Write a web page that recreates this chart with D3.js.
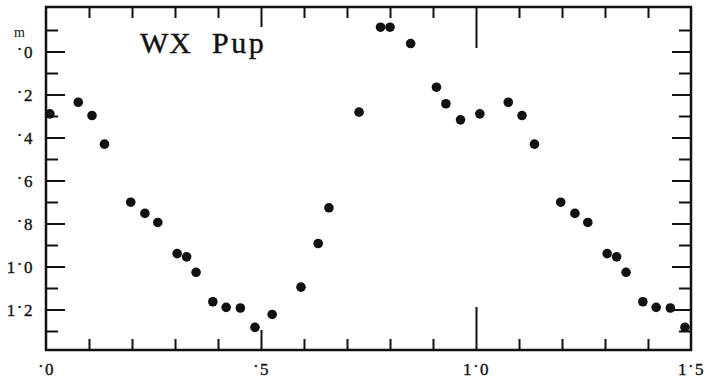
<!DOCTYPE html>
<html>
<head>
<meta charset="utf-8">
<script src="https://cdn.jsdelivr.net/npm/d3@7/dist/d3.min.js"></script>
<style>
  html, body { margin: 0; padding: 0; background: #fff; }
  svg { display: block; }
  .tick text { font-family: "Liberation Serif", "DejaVu Serif", serif; fill: #111; stroke: #111; stroke-width: 0.35; }
</style>
</head>
<body>
<svg id="chart" width="704" height="383"></svg>
<script>
// WX Pup light curve: phase vs. magnitude (one cycle; phases below 0.5 repeat after 1.0)
const phase = [0.009, 0.075, 0.107, 0.136, 0.197, 0.230, 0.260, 0.305, 0.327, 0.349,
               0.388, 0.419, 0.452, 0.486, 0.526, 0.593, 0.633, 0.658, 0.728, 0.778,
               0.800, 0.848, 0.908, 0.930, 0.964];
const magnitude = [0.290, 0.236, 0.298, 0.431, 0.701, 0.753, 0.795, 0.940, 0.955, 1.027,
                   1.164, 1.190, 1.193, 1.283, 1.223, 1.096, 0.893, 0.727, 0.282, -0.113,
                   -0.113, -0.037, 0.166, 0.243, 0.318];

const xMajorTicks = [0, 0.5, 1.0, 1.5];
const xLabels = ["·0", "·5", "1·0", "1·5"];
const yMajorTicks = [0, 0.2, 0.4, 0.6, 0.8, 1.0, 1.2];
const yLabels = ["·0", "·2", "·4", "·6", "·8", "1·0", "1·2"];
const xMinorTicks = [0.1, 0.2, 0.3, 0.4, 0.6, 0.7, 0.8, 0.9, 1.1, 1.2, 1.3, 1.4];
const yMinorTicks = [-0.1, 0.1, 0.3, 0.5, 0.7, 0.9, 1.1, 1.3];

const L = 46, R = 691, T = 7, B = 350;
const svg = d3.select("#chart");

const x = d3.scaleLinear().domain([0, 1.5]).range([L, R]);
const y = d3.scaleLinear().domain([0, 1.2]).range([51.5, 51.5 + 258]);

// folded points: each phase drawn once, and again one cycle later while inside the frame
const pts = [];
phase.forEach((p, i) => {
  pts.push({ p: p, m: magnitude[i] });
  if (p + 1 <= 1.5) pts.push({ p: p + 1, m: magnitude[i] });
});

function clean(g) {
  g.select(".domain").remove();
  g.selectAll(".tick line").attr("stroke", "#111").attr("stroke-width", 2);
  return g;
}

// split "1·0" into parts so the decimal point sits raised, as in old print
function raisedPoint(sel) {
  sel.each(function () {
    const t = d3.select(this);
    const s = t.text();
    const k = s.indexOf("·");
    t.text(null);
    if (k > 0) t.append("tspan").text(s.slice(0, k));
    t.append("tspan").attr("baseline-shift", "3.5px").text("·");
    t.append("tspan").text(s.slice(k + 1));
  });
}

const xLabelOf = d => xLabels[xMajorTicks.indexOf(d)];
const yLabelOf = d => yLabels[yMajorTicks.findIndex(v => Math.abs(v - d) < 1e-9)];

// left axis with labels
svg.append("g").attr("transform", `translate(${L},0)`)
  .call(d3.axisLeft(y).tickValues(yMajorTicks).tickSize(-19).tickPadding(12).tickFormat(yLabelOf))
  .call(clean)
  .call(g => g.selectAll(".tick text").attr("font-size", 17).attr("letter-spacing", 1.5).attr("dy", "0.34em").call(raisedPoint));
svg.append("g").attr("transform", `translate(${L},0)`)
  .call(d3.axisLeft(y).tickValues(yMinorTicks).tickSize(-12).tickFormat(""))
  .call(clean);

// right axis
svg.append("g").attr("transform", `translate(${R},0)`)
  .call(d3.axisRight(y).tickValues(yMajorTicks).tickSize(-19).tickFormat(""))
  .call(clean);
svg.append("g").attr("transform", `translate(${R},0)`)
  .call(d3.axisRight(y).tickValues(yMinorTicks).tickSize(-12).tickFormat(""))
  .call(clean);

// bottom axis with labels
svg.append("g").attr("transform", `translate(0,${B})`)
  .call(d3.axisBottom(x).tickValues(xMajorTicks).tickSize(0).tickPadding(13).tickFormat(xLabelOf))
  .call(clean)
  .call(g => g.selectAll(".tick text").attr("font-size", 17).attr("letter-spacing", 1.5).call(raisedPoint));
svg.append("g").attr("transform", `translate(0,${B})`)
  .call(d3.axisBottom(x).tickValues(xMinorTicks).tickSize(-11).tickFormat(""))
  .call(clean);
svg.append("g").attr("transform", `translate(0,${B})`)
  .call(d3.axisBottom(x).tickValues([0.5]).tickSize(-20).tickFormat(""))
  .call(clean);
svg.append("g").attr("transform", `translate(0,${B})`)
  .call(d3.axisBottom(x).tickValues([1.0]).tickSize(-43).tickFormat(""))
  .call(clean);

// top axis
svg.append("g").attr("transform", `translate(0,${T})`)
  .call(d3.axisTop(x).tickValues(xMinorTicks).tickSize(-11).tickFormat(""))
  .call(clean);
svg.append("g").attr("transform", `translate(0,${T})`)
  .call(d3.axisTop(x).tickValues([0.5]).tickSize(-20).tickFormat(""))
  .call(clean);
svg.append("g").attr("transform", `translate(0,${T})`)
  .call(d3.axisTop(x).tickValues([1.0]).tickSize(-41).tickFormat(""))
  .call(clean);

// frame
svg.append("rect")
  .attr("x", L).attr("y", T).attr("width", R - L).attr("height", B - T)
  .attr("fill", "none").attr("stroke", "#111").attr("stroke-width", 2.5);

// magnitude unit
svg.append("text").attr("x", 19.5).attr("y", 36.5)
  .attr("text-anchor", "middle")
  .attr("font-family", "Liberation Serif, serif").attr("font-size", 14).attr("fill", "#111")
  .text("m");

// star name
const title = svg.append("text").attr("y", 53)
  .attr("font-family", "Liberation Serif, serif").attr("font-size", 30).attr("fill", "#111")
  .attr("stroke", "#111").attr("stroke-width", 0.4);
title.append("tspan").attr("x", 140).attr("letter-spacing", 1).text("WX ");
title.append("tspan").attr("x", 212).attr("letter-spacing", 2.5).text("Pup");

// observations
svg.append("g").selectAll("circle").data(pts).join("circle")
  .attr("cx", d => x(d.p)).attr("cy", d => y(d.m))
  .attr("r", 4.8).attr("fill", "#111");
</script>
</body>
</html>
